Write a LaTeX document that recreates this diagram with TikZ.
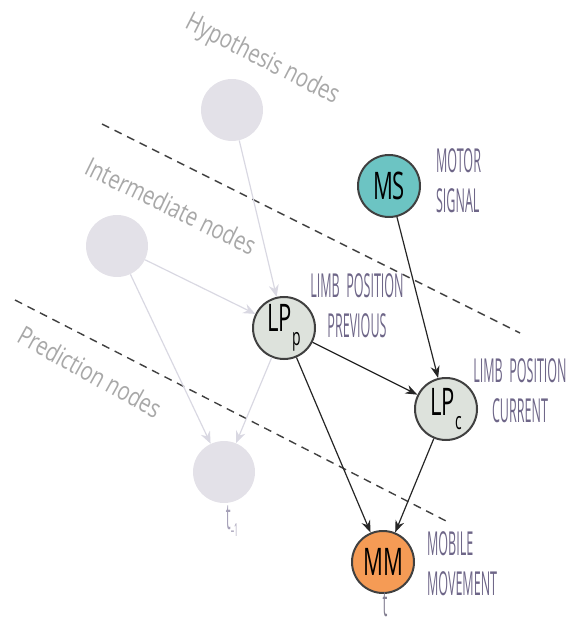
\documentclass[tikz,border=0pt]{standalone}
\usepackage{fontspec}
\setmainfont{Open Sans}
\newfontfamily\handfont[FakeStretch=0.38]{Open Sans}
\newfontfamily\markfont[FakeStretch=0.58]{Open Sans}
\newfontfamily\layerfont[FakeStretch=0.78]{Open Sans}
\usetikzlibrary{arrows.meta}

\definecolor{hidegray}{HTML}{E3E1E8}
\definecolor{edgegray}{HTML}{D9D8E2}
\definecolor{motorteal}{HTML}{6CC4C3}
\definecolor{limbgray}{HTML}{DDE2DC}
\definecolor{mobileorange}{HTML}{F59B55}
\definecolor{notepurple}{HTML}{6E6688}
\definecolor{layergray}{HTML}{A8A8A8}
\definecolor{timegray}{HTML}{A6A1B8}

\begin{document}
\begin{tikzpicture}[x=0.5pt,y=-0.5pt,
  hidden/.style={circle,fill=hidegray,minimum size=31pt,inner sep=0pt},
  active/.style={circle,draw=black!75,line width=1pt,minimum size=31pt,inner sep=0pt,
    font=\markfont\fontsize{19}{19}\selectfont},
  note/.style={text=notepurple,font=\handfont\fontsize{16.5}{20}\selectfont},
  layer/.style={text=layergray,font=\layerfont\fontsize{13}{13}\selectfont},
  border/.style={draw=black!75,line width=0.7pt,dash pattern=on 4pt off 3pt},
  faint/.style={draw=edgegray,line width=0.6pt,-{Stealth[length=6pt,width=5pt]}},
  link/.style={draw=black!85,line width=0.6pt,-{Stealth[length=6pt,width=4.5pt]}}]
\useasboundingbox (0,0) rectangle (571,619);

% layer names and borders
\node[layer,rotate=-27] (hyplabel) at (262,60) {Hypothesis nodes};
\node[layer,rotate=-26] (intlabel) at (171,206) {Intermediate nodes};
\node[layer,rotate=-29] (predlabel) at (90,372) {Prediction nodes};
\coordinate (b1s) at (102,124);
\coordinate (b1e) at (520,333);
\coordinate (b2s) at (15,300);
\coordinate (b2e) at (448,522);
\draw[border] (b1s) -- (b1e);
\draw[border] (b2s) -- (b2e);

% time step t-1
\node[hidden] (hyp) at (232,110) {};
\node[hidden] (inter) at (117,246) {};
\node[hidden] (pred) at (224,472) {};
\node[text=timegray,font=\handfont\fontsize{18}{18}\selectfont] (tprev) at (232,521) {t\raisebox{-0.4ex}{\fontsize{9}{9}\selectfont \textendash1}};

% time step t
\node[active,fill=motorteal] (ms) at (389,186) {MS};
\node[active,fill=limbgray] (lpp) at (284,328) {LP\raisebox{-0.7ex}{\fontsize{12}{12}\selectfont p}};
\node[active,fill=limbgray] (lpc) at (446,409) {LP\raisebox{-0.7ex}{\fontsize{12}{12}\selectfont c}};
\node[active,fill=mobileorange] (mm) at (383,562) {MM};
\node[text=timegray!80!black,font=\handfont\fontsize{18}{18}\selectfont,inner sep=0.5pt] (tnow) at (385,605) {t};

\node[note,align=left,anchor=west] (msnote) at (429,181) {MOTOR\\SIGNAL};
\node[note,align=center] (lppnote) at (357,306) {LIMB\ \ POSITION\\PREVIOUS};
\node[note,align=center] (lpcnote) at (520,391) {LIMB\ \ POSITION\\CURRENT};
\node[note,align=left,anchor=west] (mmnote) at (420,564) {MOBILE\\MOVEMENT};

\draw[faint] (hyp) -- (lpp);
\draw[faint] (inter) -- (lpp);
\draw[faint] (inter) -- (pred);
\draw[faint] (lpp) -- (pred);

\draw[link] (ms) -- (lpc);
\draw[link] (lpp) -- (lpc);
\draw[link] (lpp) -- (mm);
\draw[link] (lpc) -- (mm);
\end{tikzpicture}
\end{document}
